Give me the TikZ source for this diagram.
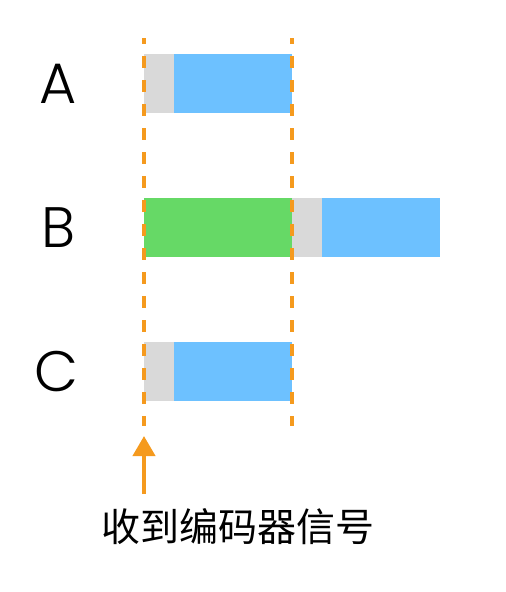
\documentclass[tikz,border=0pt]{standalone}
\usepackage{fontspec}
\setmainfont{Poppins Light}
\newfontfamily\cjk{Noto Sans CJK SC}
\usetikzlibrary{arrows.meta}
\definecolor{barblue}{HTML}{6DC1FF}
\definecolor{bargray}{HTML}{D9D9D9}
\definecolor{bargreen}{HTML}{66D966}
\definecolor{guide}{HTML}{F59A1E}
\begin{document}
\begin{tikzpicture}[x=1pt,y=-1pt,
  seg/.style={draw=none,inner sep=0pt,outer sep=0pt,anchor=north west},
  lbl/.style={inner sep=0pt,font=\fontsize{57}{57}\selectfont},
  guideline/.style={guide,line width=4pt,dash pattern=on 12pt off 12pt,dash phase=6pt},
  sig/.style={guide,line width=4pt,-{Triangle[width=22pt,length=20pt]}}]
\useasboundingbox (0,0) rectangle (506,592);
% row A
\node[seg,fill=bargray,minimum width=30pt,minimum height=59pt] (a1) at (144,54) {};
\node[seg,fill=barblue,minimum width=118pt,minimum height=59pt] (a2) at (174,54) {};
% row B
\node[seg,fill=bargreen,minimum width=148pt,minimum height=59pt] (b0) at (144,198) {};
\node[seg,fill=bargray,minimum width=30pt,minimum height=59pt] (b1) at (292,198) {};
\node[seg,fill=barblue,minimum width=118pt,minimum height=59pt] (b2) at (322,198) {};
% row C
\node[seg,fill=bargray,minimum width=30pt,minimum height=59pt] (c1) at (144,342) {};
\node[seg,fill=barblue,minimum width=118pt,minimum height=59pt] (c2) at (174,342) {};
% labels
\node[lbl] (la) at (58,83.5) {A};
\node[lbl] (lb) at (59,227.5) {B};
\node[lbl] (lc) at (56,371.5) {C};
% guide lines
\coordinate (g1t) at (144,38);
\coordinate (g1b) at (144,426);
\coordinate (g2t) at (292,38);
\coordinate (g2b) at (292,426);
\draw[guideline] (g1t) -- (g1b);
\draw[guideline] (g2t) -- (g2b);
% signal arrow and text
\coordinate (arrs) at (144,494);
\coordinate (arre) at (144,436);
\draw[sig] (arrs) -- (arre);
\node[inner sep=0pt,font=\cjk\fontsize{39}{39}\selectfont] (txt) at (237.5,527) {收到编码器信号};
\end{tikzpicture}
\end{document}
